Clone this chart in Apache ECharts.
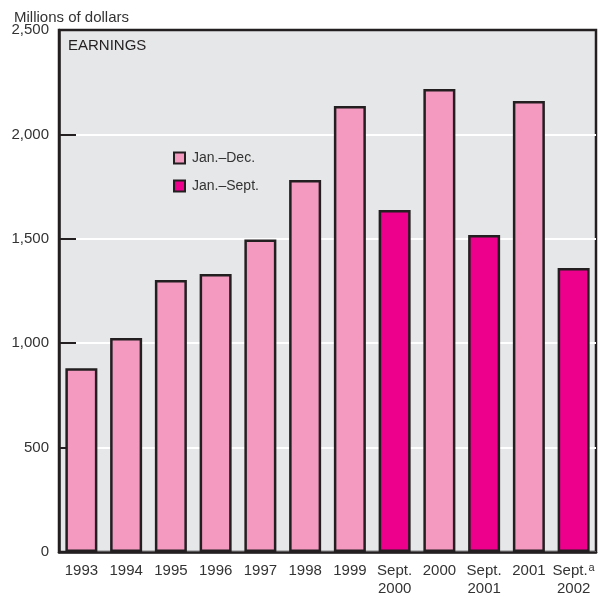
<!DOCTYPE html>
<html>
<head>
<meta charset="utf-8">
<script src="https://cdn.jsdelivr.net/npm/echarts@6/dist/echarts.min.js"></script>
<style>html,body{margin:0;padding:0;background:#fff}#c{width:600px;height:603px}</style>
</head>
<body>
<div id="c"></div>
<script>
const categories = ['1993','1994','1995','1996','1997','1998','1999','Sept.\n2000','2000','Sept.\n2001','2001','Sept.\n2002'];
const janDec  = [880, 1025, 1303, 1331, 1497, 1782, 2136, null, 2217, null, 2160, null];
const janSept = [null, null, null, null, null, null, null, 1638, null, 1518, null, 1360];
const yTicks = [0, 500, 1000, 1500, 2000, 2500];

const FONT = "'Liberation Sans', Arial, sans-serif";
const chart = echarts.init(document.getElementById('c'), null, {renderer: 'canvas'});
chart.setOption({
  animation: false,
  backgroundColor: '#ffffff',
  title: {
    text: 'Millions of dollars', left: 9, top: 5,
    textStyle: {fontFamily: FONT, fontSize: 15, fontWeight: 'normal', color: '#333'}
  },
  graphic: [{
    type: 'text', left: 68, top: 38,
    style: {text: 'EARNINGS', font: "15px 'Liberation Sans', Arial, sans-serif", fill: '#231f20'}
  }],
  legend: {
    orient: 'vertical', left: 168, top: 146, itemWidth: 11, itemHeight: 11, itemGap: 14,
    icon: 'rect',
    textStyle: {fontFamily: FONT, fontSize: 14, color: '#333', padding: [0, 0, 0, 2]},
    data: ['Jan.\u2013Dec.', 'Jan.\u2013Sept.']
  },
  grid: {
    left: 59, right: 4, top: 30, bottom: 51, show: true,
    backgroundColor: '#e6e7e8', borderColor: '#231f20', borderWidth: 2.5
  },
  xAxis: {
    type: 'category', data: categories,
    axisLine: {lineStyle: {color: '#231f20', width: 2.5}},
    axisTick: {show: false},
    axisLabel: {
      fontFamily: FONT, fontSize: 15, color: '#333', margin: 10, lineHeight: 18, interval: 0,
      formatter: function (v) {
        if (v === 'Sept.\n2002') return 'Sept.{sup|a}\n2002';
        return v;
      },
      rich: {sup: {fontFamily: FONT, fontSize: 11, color: '#333', verticalAlign: 'top', padding: [0, 0, 10, 1]}}
    }
  },
  yAxis: {
    type: 'value', min: 0, max: 2500, interval: 500,
    axisLine: {show: true, lineStyle: {color: '#231f20', width: 2.5}},
    axisTick: {show: true, inside: true, length: 17, lineStyle: {color: '#231f20', width: 2}},
    splitLine: {show: true, showMaxLine: false, lineStyle: {color: '#ffffff', width: 2}},
    axisLabel: {
      fontFamily: FONT, fontSize: 15, color: '#333', margin: 10,
      formatter: function (v) { return yTicks.indexOf(v) >= 0 ? v.toLocaleString('en-US') : ''; }
    }
  },
  series: [
    {
      name: 'Jan.\u2013Dec.', type: 'bar', data: janDec, barWidth: 32, barGap: '-100%',
      itemStyle: {color: '#f49ac1', borderColor: '#231f20', borderWidth: 2.5}
    },
    {
      name: 'Jan.\u2013Sept.', type: 'bar', data: janSept, barWidth: 32, barGap: '-100%',
      itemStyle: {color: '#ec008c', borderColor: '#231f20', borderWidth: 2.5}
    }
  ]
});
</script>
</body>
</html>
